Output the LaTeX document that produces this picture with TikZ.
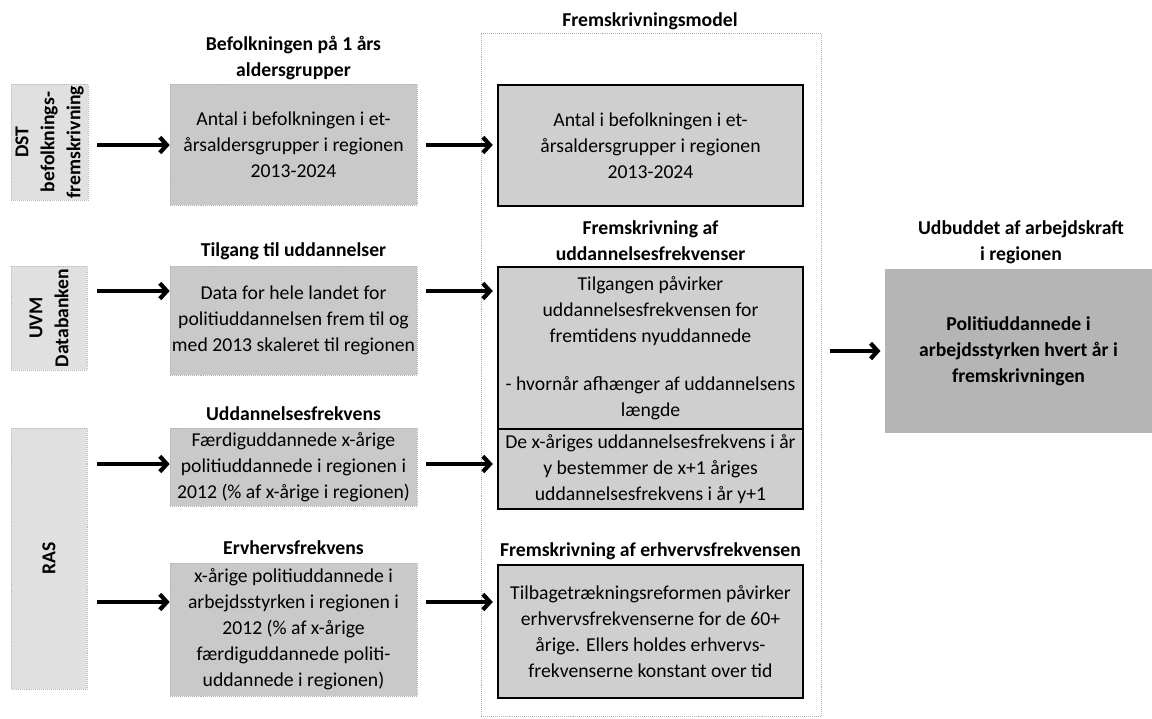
\documentclass[tikz,border=0pt]{standalone}
\usepackage{fontspec}
\setmainfont{Carlito}
\usepackage{tikz}
\usetikzlibrary{arrows.meta, calc}

\begin{document}
\begin{tikzpicture}[x = 0.025cm, y = -0.025cm,
    every node/.style = {font = \fontsize{14}{18.5}\selectfont, align = center},
    kilde/.style = {draw = gray!55, densely dotted, fill = gray!24, rotate = 90,
        font = \fontsize{14}{18.5}\selectfont\bfseries, inner sep = 0pt},
    lboks/.style = {draw = gray!60, densely dotted, fill = gray!42,
        minimum width = 6.175cm, inner sep = 1pt},
    mboks/.style = {draw = black, line width = 1.4pt, fill = gray!38,
        minimum width = 7.625cm, inner sep = 1pt},
    titel/.style = {font = \fontsize{14}{18.5}\selectfont\bfseries, inner sep = 0pt},
    pil/.style = {line width = 3pt, -{Straight Barb[length = 5pt, width = 11pt]}}]
    \useasboundingbox (0,0) rectangle (1152,718);
    % Ramme om modellen
    \node[draw = gray!60, densely dotted, minimum width = 8.5cm, minimum height = 17.075cm,
        inner sep = 0pt] (model) at (651,374.5) {};
    \node[titel] (tmodel) at (650,21.5) {Fremskrivningsmodel};
    % Kilder
    \node[kilde, minimum width = 2.9cm, minimum height = 1.925cm] (dst) at (49.5,142)
        {DST\\befolknings-\\fremskrivning};
    \node[kilde, minimum width = 2.6cm, minimum height = 1.9cm] (uvm) at (49,318)
        {UVM\\Databanken};
    \node[kilde, minimum width = 6.525cm, minimum height = 1.9cm] (ras) at (49,558.5)
        {RAS};
    % Data
    \node[lboks, minimum height = 3.025cm] (lboks1) at (293.5,144.5)
        {Antal i befolkningen i et-\\årsaldersgrupper i regionen\\2013-2024};
    \node[lboks, minimum height = 2.725cm] (lboks2) at (293.5,320.5)
        {Data for hele landet for\\politiuddannelsen frem til og\\med 2013 skaleret til regionen};
    \node[lboks, minimum height = 1.95cm] (lboks3) at (293.5,467)
        {Færdiguddannede x-årige\\politiuddannede i regionen i\\2012 (\% af x-årige i regionen)};
    \node[lboks, minimum height = 3.325cm] (lboks4) at (293.5,629.5)
        {x-årige politiuddannede i\\arbejdsstyrken i regionen i\\2012 (\% af x-årige\\færdiguddannede politi-\\uddannede i regionen)};
    \node[titel] (tl1) at (293.5,58.5) {Befolkningen på 1 års\\aldersgrupper};
    \node[titel] (tl2) at (293.5,251) {Tilgang til uddannelser};
    \node[titel] (tl3) at (293.5,414) {Uddannelsesfrekvens};
    \node[titel] (tl4) at (293.5,548) {Ervhervsfrekvens};
    % Model
    \node[mboks, minimum height = 3.025cm] (mboks1) at (650.5,145.5)
        {Antal i befolkningen i et-\\årsaldersgrupper i regionen\\2013-2024};
    \node[mboks, minimum height = 4.05cm] (mboks2) at (650.5,348)
        {Tilgangen påvirker\\uddannelsesfrekvensen for\\fremtidens nyuddannede\\[16pt]- hvornår afhænger af uddannelsens\\længde};
    \node[mboks, minimum height = 2cm] (mboks3) at (650.5,469)
        {De x-åriges uddannelsesfrekvens i år\\y bestemmer de x+1 åriges\\uddannelsesfrekvens i år y+1};
    \node[mboks, minimum height = 3.325cm] (mboks4) at (650.5,631.5)
        {Tilbagetrækningsreformen påvirker\\erhvervsfrekvenserne for de 60+\\årige. Ellers holdes erhvervs-\\frekvenserne konstant over tid};
    \node[titel] (tm2) at (650.5,240.5) {Fremskrivning af\\uddannelsesfrekvenser};
    \node[titel] (tm4) at (650.5,551) {Fremskrivning af erhvervsfrekvensen};
    % Resultat
    \node[fill = gray!58, minimum width = 6.675cm, minimum height = 4.1cm,
        font = \fontsize{14}{18.5}\selectfont\bfseries] (udbud) at (1018.5,351)
        {Politiuddannede i\\arbejdsstyrken hvert år i\\fremskrivningen};
    \node[titel] (tudbud) at (1021,242.5) {Udbuddet af arbejdskraft\\i regionen};
    % Pile
    \coordinate (r1) at (97,145);
    \coordinate (r2) at (97,291);
    \coordinate (r3) at (97,464);
    \coordinate (r4) at (97,602);
    \draw[pil] (r1) -- (r1 -| lboks1.west);
    \draw[pil] (r2) -- (r2 -| lboks2.west);
    \draw[pil] (r3) -- (r3 -| lboks3.west);
    \draw[pil] (r4) -- (r4 -| lboks4.west);
    \foreach \i in {1,...,4}{
        \draw[pil, shorten < = 6pt, shorten > = 3pt] (r\i -| lboks\i.east) -- (r\i -| mboks\i.west);
    }
    \draw[pil, shorten < = 6pt, shorten > = 3pt] (model.east |- udbud.west) -- (udbud.west);
\end{tikzpicture}
\end{document}
